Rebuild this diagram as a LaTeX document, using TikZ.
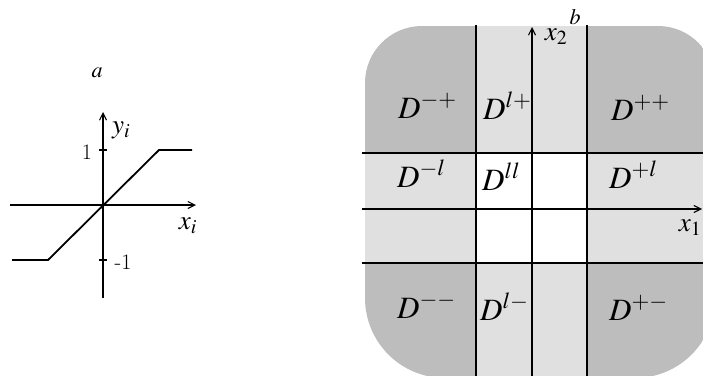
\documentclass[tikz,border=0pt]{standalone}
\usepackage{mathptmx}
\usetikzlibrary{arrows.meta}
\tikzset{
  ax/.style={line width=1.2pt, -{Straight Barb[length=7pt,width=7pt,line width=1.1pt]}},
  gridline/.style={line width=1.4pt},
  curveline/.style={line width=1.8pt, line join=miter},
  tick/.style={line width=1.2pt},
  dlab/.style={anchor=base west, inner sep=0pt, font=\fontsize{31}{34}\selectfont},
  axlab/.style={inner sep=0pt, font=\fontsize{27}{30}\selectfont},
  numlab/.style={inner sep=0pt, font=\fontsize{22}{26}\selectfont},
  panlab/.style={inner sep=0pt, font=\fontsize{22}{25}\selectfont},
  darkfill/.style={fill=black!26},
  lightfill/.style={fill=black!12}
}
\begin{document}
\begin{tikzpicture}[x=1pt,y=-1pt]
\useasboundingbox (0,0) rectangle (703,375);
% ---------- panel a ----------
\node[panlab] (la) at (97,73) {$a$};
\coordinate (xa0) at (10,205);
\coordinate (xa1) at (196,205);
\coordinate (ya0) at (103,298);
\coordinate (ya1) at (103,112);
\draw[ax] (xa0) -- (xa1);
\draw[ax] (ya0) -- (ya1);
\coordinate (t1a) at (99,150); \coordinate (t1b) at (107,150);
\coordinate (t2a) at (99,260); \coordinate (t2b) at (107,260);
\draw[tick] (t1a) -- (t1b);
\draw[tick] (t2a) -- (t2b);
\coordinate (c0) at (12,260);
\coordinate (c1) at (48,260);
\coordinate (c2) at (159,150);
\coordinate (c3) at (192,150);
\draw[curveline] (c0) -- (c1) -- (c2) -- (c3);
\node[axlab, anchor=west] (ly) at (112,130) {$y_i$};
\node[axlab] (lx) at (188,226) {$x_i$};
\node[numlab] (n1) at (87,152) {1};
\node[numlab] (nm1) at (123,262) {-1};
% ---------- panel b ----------
\begin{scope}
  \clip (0,0) rectangle (703,375);
  \begin{scope}
    \clip (365,200) [rounded corners=57pt] |- (540,26) -| (715,200)
          [rounded corners=80pt] |- (540,378) -| (365,200) -- cycle;
    \fill[darkfill] (350,0) rectangle (720,390);
    \fill[lightfill] (476,0) rectangle (587,390);
    \fill[lightfill] (350,153) rectangle (720,263);
    \fill[white] (476,153) rectangle (587,263);
  \end{scope}
  \coordinate (v1a) at (476,25); \coordinate (v1b) at (476,376);
  \coordinate (v2a) at (587,25); \coordinate (v2b) at (587,376);
  \coordinate (h1a) at (362,153); \coordinate (h1b) at (704,153);
  \coordinate (h2a) at (362,263); \coordinate (h2b) at (704,263);
  \draw[gridline] (v1a) -- (v1b);
  \draw[gridline] (v2a) -- (v2b);
  \draw[gridline] (h1a) -- (h1b);
  \draw[gridline] (h2a) -- (h2b);
  \coordinate (x1a) at (362,209); \coordinate (x1b) at (702,209);
  \coordinate (x2a) at (532,376); \coordinate (x2b) at (532,27);
  \draw[ax] (x1a) -- (x1b);
  \draw[ax] (x2a) -- (x2b);
\end{scope}
\node[panlab] (lb) at (575,17) {$b$};
\node[axlab] (lx2) at (556,37) {$x_2$};
\node[axlab] (lx1) at (690,228) {$x_1$};
\node[dlab] (dmp) at (398,118) {$D^{-+}$};
\node[dlab] (dlp) at (483,119) {$D^{l+}$};
\node[dlab] (dpp) at (611,120) {$D^{++}$};
\node[dlab] (dml) at (397,187) {$D^{-l}$};
\node[dlab] (dll) at (482,190) {$D^{ll}$};
\node[dlab] (dpl) at (609,188) {$D^{+l}$};
\node[dlab] (dmm) at (397,318) {$D^{--}$};
\node[dlab] (dlm) at (480,320) {$D^{l-}$};
\node[dlab] (dpm) at (609,320) {$D^{+-}$};
\end{tikzpicture}
\end{document}
